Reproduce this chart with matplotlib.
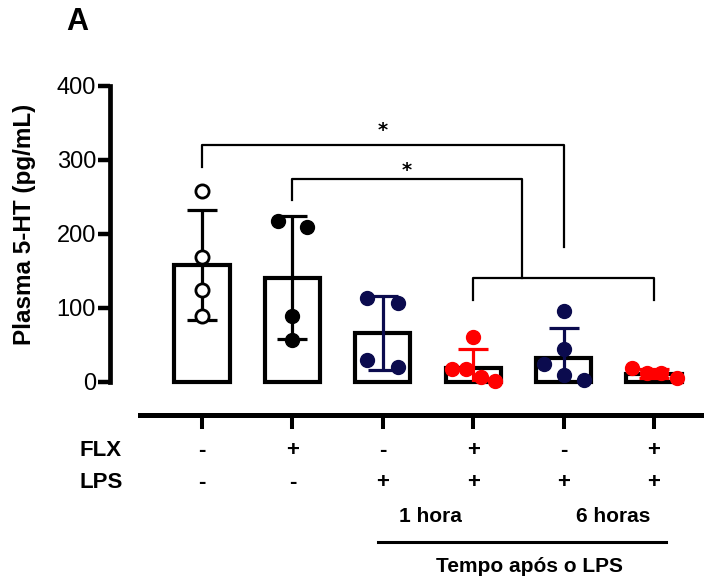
import matplotlib
matplotlib.use("Agg")
import matplotlib.pyplot as plt
import numpy as np

# -----------------------------
# Data
# -----------------------------
groups = ["ctrl", "flx", "lps_1h", "flx_lps_1h", "lps_6h", "flx_lps_6h"]
means = [158, 141, 66, 19, 33, 11]
sds = [74, 83, 50, 25, 40, 6]

points = [
    [258, 169, 124, 89],
    [217, 210, 89, 57],
    [114, 107, 30, 20],
    [61, 18, 18, 7, 2],
    [96, 45, 24, 9, 3],
    [19, 12, 12, 5],
]
# horizontal scatter of the dots (fraction of bar spacing)
jitter = [
    [0, 0, 0, 0],
    [-0.155, 0.16, 0, 0],
    [-0.17, 0.165, -0.17, 0.165],
    [0, -0.23, -0.08, 0.09, 0.24],
    [0, 0, -0.22, 0, 0.22],
    [-0.24, -0.08, 0.08, 0.25],
]

flx_row = ["-", "+", "-", "+", "-", "+"]
lps_row = ["-", "-", "+", "+", "+", "+"]

navy = "#0b0b4e"
red = "#ff0000"
dot_colors = ["black", "black", navy, red, navy, red]
err_colors = ["black", "black", navy, red, navy, red]
open_dots = [True, False, False, False, False, False]

# significance brackets: (x left, x right, top, left drop, right drop)
brackets = [
    (0, 4, 320, 290, 182),
    (1, 3.54, 274, 246, 140),
    (3, 5, 140, 111, 111),
]
stars = [(2.0, 340), (2.26, 286)]

# -----------------------------
# Figure
# -----------------------------
W, H = 704, 580
fig = plt.figure(figsize=(W / 100, H / 100), dpi=100)
ax = fig.add_axes([110 / W, 198 / H, 594 / W, 296 / H])
xmin, xmax = -1.018, 5.553
ax.set_xlim(xmin, xmax)
ax.set_ylim(0, 400)

x = np.arange(len(groups))
ax.bar(x, means, width=0.61, facecolor="white", edgecolor="black",
       linewidth=3.0, zorder=2, clip_on=False)

for i in range(len(groups)):
    ax.errorbar(x[i], means[i], yerr=sds[i], fmt="none", ecolor=err_colors[i],
                elinewidth=2.3, capsize=11, capthick=2.3, zorder=3)
    xs = x[i] + np.array(jitter[i])
    if open_dots[i]:
        ax.plot(xs, points[i], "o", ms=9.5, mfc="white", mec="black",
                mew=2.0, zorder=4, clip_on=False)
    else:
        ax.plot(xs, points[i], "o", ms=10, color=dot_colors[i],
                zorder=4, clip_on=False)

for xl, xr, top, dl, dr in brackets:
    ax.plot([xl, xl, xr, xr], [dl, top, top, dr], color="black",
            lw=1.6, clip_on=False, zorder=1)
for sx, sy in stars:
    ax.text(sx, sy, "*", ha="center", va="center", fontsize=14,
            fontweight="bold")

ax.set_yticks([0, 100, 200, 300, 400])
ax.tick_params(axis="y", length=9, width=3.2, labelsize=17, pad=1)
for lab in ax.get_yticklabels():
    lab.set_family("Liberation Sans")
ax.set_xticks([])
for s in ["top", "right", "bottom"]:
    ax.spines[s].set_visible(False)
ax.spines["left"].set_linewidth(3.4)
fig.text(25 / W, 1 - 224 / H, "Plasma 5-HT (pg/mL)", rotation=90,
         ha="center", va="center", fontsize=17.5, fontweight="bold",
         family="Liberation Sans")

# -----------------------------
# Category table below
# -----------------------------
ax2 = fig.add_axes([110 / W, 0, 594 / W, 165 / H])
ax2.set_xlim(xmin, xmax)
ax2.set_ylim(0, 165)
ax2.patch.set_visible(False)
for s in ["bottom", "left", "right"]:
    ax2.spines[s].set_visible(False)
ax2.spines["top"].set_linewidth(3.6)
ax2.spines["top"].set_bounds(-0.686, xmax)
ax2.xaxis.tick_top()
ax2.set_xticks(x)
ax2.tick_params(axis="x", direction="in", length=10, width=2.9,
                labeltop=False)
ax2.set_yticks([])

bold = dict(fontweight="bold", family="Liberation Sans", fontsize=16)
ax2.text(-1.35, 129, "FLX", ha="left", va="center", **bold)
ax2.text(-1.35, 98, "LPS", ha="left", va="center", **bold)
for i in range(len(groups)):
    ax2.text(x[i], 129, flx_row[i], ha="center", va="center", **bold)
    ax2.text(x[i], 98, lps_row[i], ha="center", va="center", **bold)

narrow = dict(fontweight="bold", family="Liberation Sans", fontsize=15)
ax2.text(2.53, 64, "1 hora", ha="center", va="center", **narrow)
ax2.text(4.55, 64, "6 horas", ha="center", va="center", **narrow)
ax2.plot([1.95, 5.13], [38, 38], color="black", lw=2.2, clip_on=False)
ax2.text(3.62, 14, "Tempo após o LPS", ha="center", va="center", **narrow)

fig.text(66 / W, 1 - 22 / H, "A", ha="left", va="center", fontsize=22,
         fontweight="bold", family="Liberation Sans")

fig.savefig("out.png", dpi=100)
